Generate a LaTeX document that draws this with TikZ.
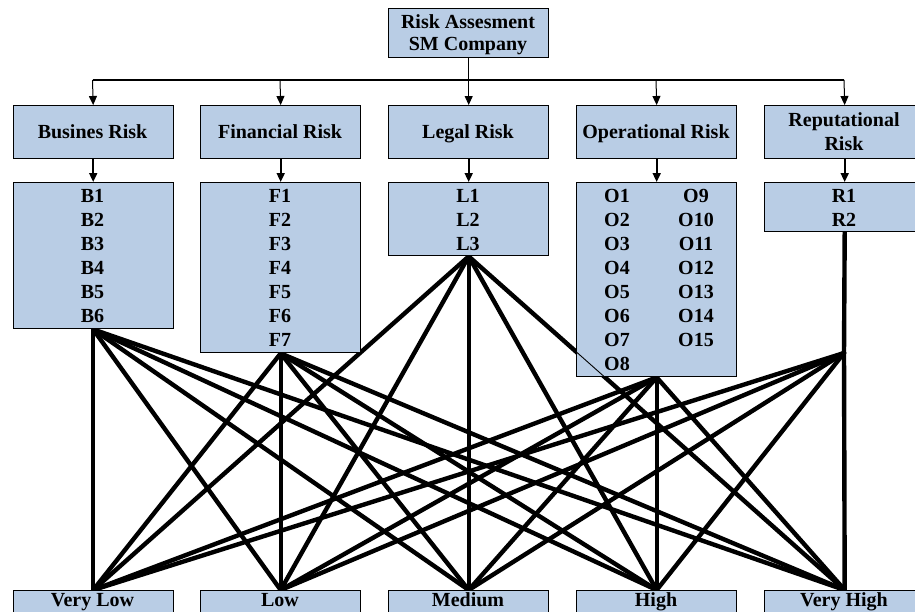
\documentclass[tikz,border=0pt]{standalone}
\usepackage{fontspec}
\setmainfont{Liberation Serif}
\usetikzlibrary{arrows.meta}
\definecolor{boxblue}{RGB}{185,205,229}
\pgfdeclarelayer{bg}
\pgfsetlayers{bg,main}
\begin{document}
\begin{tikzpicture}[x=1pt,y=-1pt,
  box/.style={draw=black,line width=1.4pt,fill=boxblue,inner sep=0pt,minimum width=160pt,anchor=north west},
  txt/.style={font=\fontsize{20}{24}\selectfont\bfseries,inner sep=0pt,anchor=base},
  fan/.style={line width=4.4pt,line cap=round},
  tip/.style={-{Triangle[length=9pt,width=8pt]}}]
\useasboundingbox (0,0) rectangle (915,611);
\clip (0,0) rectangle (915,611);

% top box
\node[box,minimum height=49pt] (top) at (388,8) {};
\node[txt] (toptxtA) at (468,28) {Risk Assesment};
\node[txt] (toptxtB) at (468,50) {SM Company};

% category boxes
\node[box,minimum height=53pt] (catB) at (12.5,105) {};
\node[box,minimum height=53pt] (catF) at (200,105) {};
\node[box,minimum height=53pt] (catL) at (388,105) {};
\node[box,minimum height=53pt] (catO) at (576,105) {};
\node[box,minimum height=53pt] (catR) at (764,105) {};
\node[txt] (tB) at (92.5,138) {Busines Risk};
\node[txt] (tF) at (280,138) {Financial Risk};
\node[txt] (tL) at (468,138) {Legal Risk};
\node[txt] (tO) at (656,138) {Operational Risk};
\node[txt] (tRa) at (844,126) {Reputational};
\node[txt] (tRb) at (844,150) {Risk};

% list boxes
\node[box,minimum height=146pt] (listB) at (12.5,182) {};
\node[box,minimum height=170pt] (listF) at (200,182) {};
\node[box,minimum height=73pt] (listL) at (388,182) {};
\node[box,minimum height=194pt] (listO) at (576,182) {};
\node[box,minimum height=49pt] (listR) at (764,182) {};
\foreach \i in {1,...,6} \node[txt] (b\i) at (92.5,{202+24*(\i-1)}) {B\i};
\foreach \i in {1,...,7} \node[txt] (f\i) at (280,{202+24*(\i-1)}) {F\i};
\foreach \i in {1,...,3} \node[txt] (l\i) at (468,{202+24*(\i-1)}) {L\i};
\foreach \i in {1,...,8} \node[txt] (o\i) at (617,{202+24*(\i-1)}) {O\i};
\foreach \i in {9,...,15} \node[txt] (o\i) at (696,{202+24*(\i-9)}) {O\i};
\foreach \i in {1,2} \node[txt] (r\i) at (844,{202+24*(\i-1)}) {R\i};

% bottom boxes
\node[box,minimum height=35pt] (vl) at (12.5,590) {};
\node[box,minimum height=35pt] (lo) at (200,590) {};
\node[box,minimum height=35pt] (me) at (388,590) {};
\node[box,minimum height=35pt] (hi) at (576,590) {};
\node[box,minimum height=35pt] (vh) at (764,590) {};
\node[txt] (tvl) at (92.5,606) {Very Low};
\node[txt] (tlo) at (280,606) {Low};
\node[txt] (tme) at (468,606) {Medium};
\node[txt] (thi) at (656,606) {High};
\node[txt] (tvh) at (844,606) {Very High};

% tree connectors
\coordinate (jB) at (92.5,80);
\coordinate (jF) at (280,80);
\coordinate (jO) at (656,80);
\coordinate (jR) at (844,80);
\draw[line width=1.4pt] (jB) -- (jR);
\draw[line width=1pt,tip] (top.south) -- (catL.north);
\foreach \n in {B,F,O,R} \draw[line width=1pt,tip] (j\n) -- (cat\n.north);
\foreach \n in {B,F,L,O,R} \draw[line width=1.8pt,tip] (cat\n.south) -- (list\n.north);

% fan lines
\coordinate (jRf) at (844,353);
\begin{pgfonlayer}{bg}
\foreach \s in {listB.south,listF.south,listL.south,listO.south,jRf}
  \foreach \t in {vl,lo,me,hi,vh}
    \draw[fan] (\s) -- (\t.north);
\draw[fan] (listR.south) -- (jRf);
\end{pgfonlayer}
\draw[line width=0.9pt] (listL.south) -- (vh.north);
\end{tikzpicture}
\end{document}
